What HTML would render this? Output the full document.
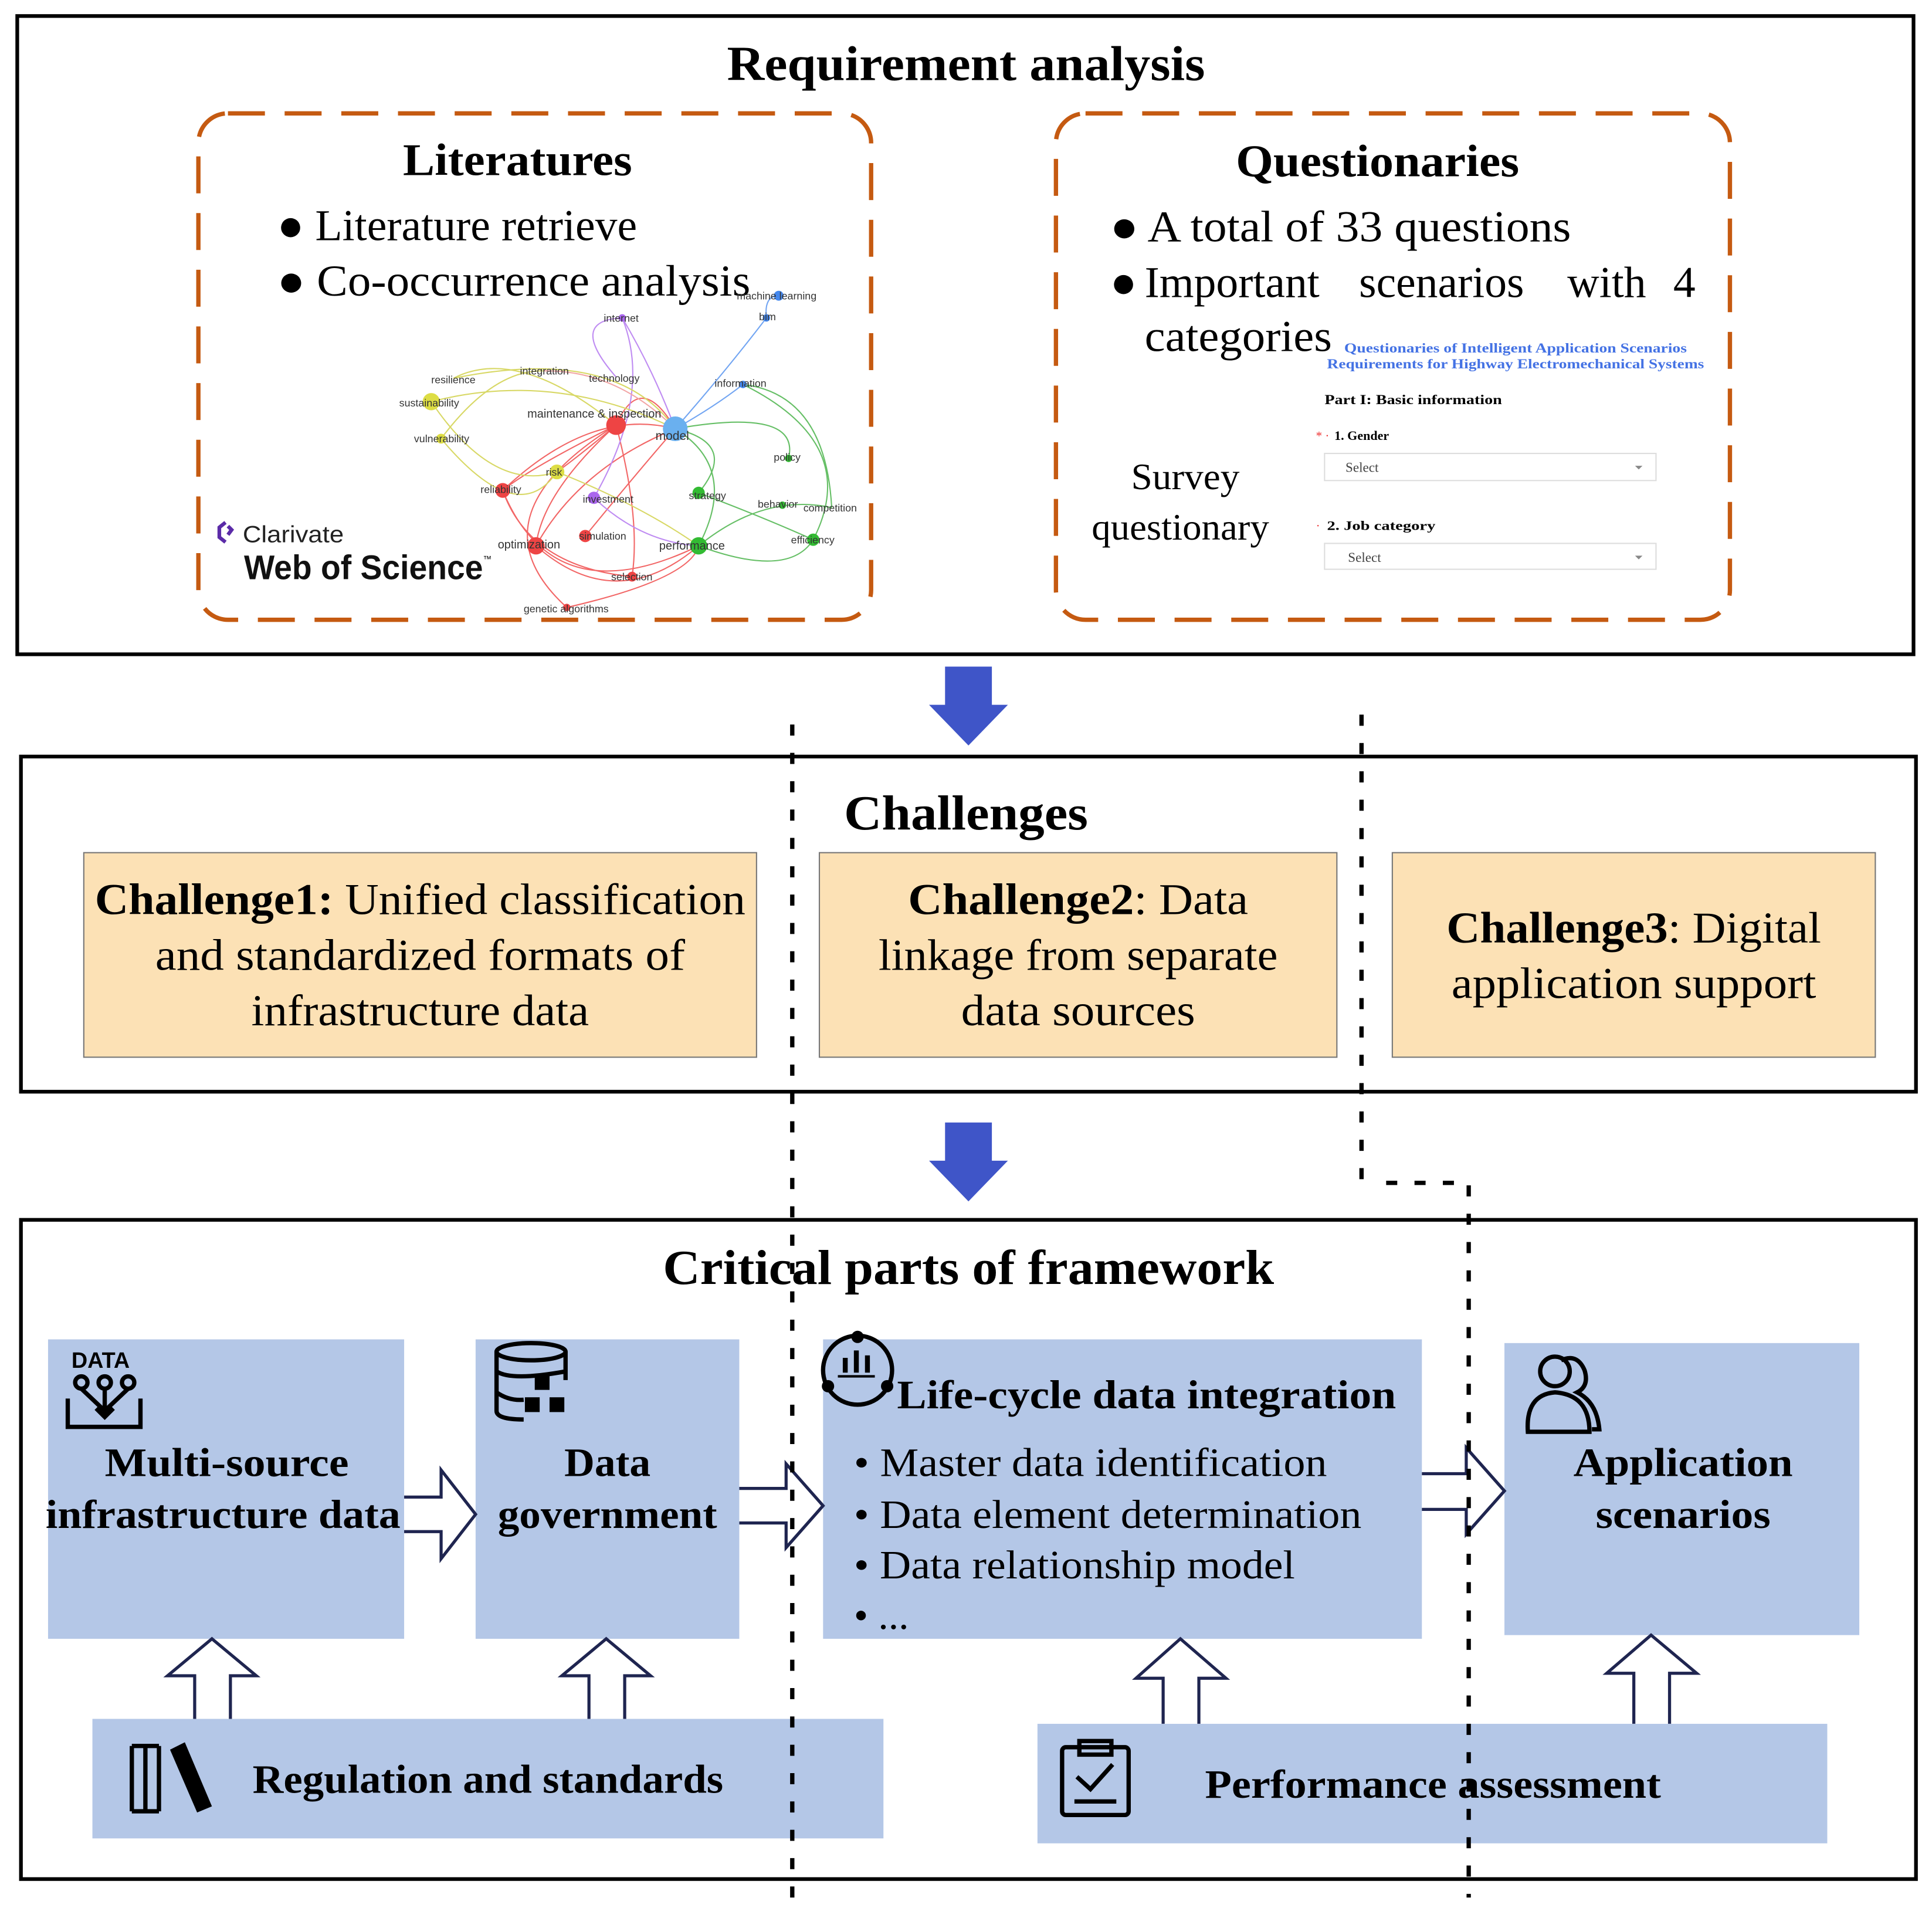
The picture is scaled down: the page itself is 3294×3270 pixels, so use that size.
<!DOCTYPE html>
<html><head><meta charset="utf-8"><style>
html,body{margin:0;padding:0;background:#fff}
svg{display:block}
text{font-family:"Liberation Serif",serif}
.b{font-weight:bold}
.s text,text.s{font-family:"Liberation Sans",sans-serif}
</style></head><body>
<svg width="3294" height="3270" viewBox="0 0 1568 1556.6" preserveAspectRatio="none" xmlns="http://www.w3.org/2000/svg">
<rect width="1568" height="1557" fill="#fff"/>
<rect x="14" y="13" width="1539" height="518" fill="none" stroke="#000" stroke-width="3"/>
<text x="784" y="65" text-anchor="middle" class="b" font-size="40" textLength="388" lengthAdjust="spacingAndGlyphs">Requirement analysis</text>
<rect x="161" y="92" width="546" height="411" rx="24" fill="none" stroke="#C55A11" stroke-width="3.5" stroke-dasharray="30 16"/>
<rect x="857" y="92" width="547" height="411" rx="24" fill="none" stroke="#C55A11" stroke-width="3.5" stroke-dasharray="30 16"/>
<text x="420" y="142" text-anchor="middle" class="b" font-size="37" textLength="186" lengthAdjust="spacingAndGlyphs">Literatures</text>
<text x="225" y="195" font-size="36" textLength="292" lengthAdjust="spacingAndGlyphs">● Literature retrieve</text>
<text x="225" y="240" font-size="36" textLength="384" lengthAdjust="spacingAndGlyphs">● Co-occurrence analysis</text>
<g fill="none" stroke-width="1" opacity="0.75">
<path d="M548 348 Q520 300 500 345" stroke="#e33"/>
<path d="M500 345 Q470 370 452 383" stroke="#e33"/>
<path d="M500 345 Q430 380 408 398" stroke="#e33"/>
<path d="M500 345 Q440 400 435 443" stroke="#e33"/>
<path d="M500 345 Q520 420 513 468" stroke="#e33"/>
<path d="M500 345 Q380 420 460 493" stroke="#e33"/>
<path d="M408 398 Q430 460 513 468" stroke="#e33"/>
<path d="M435 443 Q470 380 548 348" stroke="#e33"/>
<path d="M435 443 Q500 500 567 443" stroke="#e33"/>
<path d="M475 435 Q520 380 548 348" stroke="#e33"/>
<path d="M460 493 Q560 470 567 443" stroke="#e33"/>
<path d="M408 398 Q480 330 548 348" stroke="#e33"/>
<path d="M548 348 Q600 380 567 443" stroke="#3a3"/>
<path d="M548 348 Q600 360 567 400" stroke="#3a3"/>
<path d="M567 400 Q620 420 660 438" stroke="#3a3"/>
<path d="M567 443 Q620 400 675 412" stroke="#3a3"/>
<path d="M548 348 Q650 330 640 372" stroke="#3a3"/>
<path d="M603 312 Q700 360 660 438" stroke="#3a3"/>
<path d="M567 443 Q640 470 660 438" stroke="#3a3"/>
<path d="M603 312 Q670 320 675 412" stroke="#3a3"/>
<path d="M548 348 Q590 300 622 258" stroke="#48e"/>
<path d="M548 348 Q580 330 603 312" stroke="#48e"/>
<path d="M622 258 Q620 240 632 240" stroke="#48e"/>
<path d="M548 348 Q530 300 505 258" stroke="#a6e"/>
<path d="M482 404 Q530 320 505 258" stroke="#a6e"/>
<path d="M500 306 Q460 260 505 258" stroke="#a6e"/>
<path d="M368 307 Q420 280 500 345" stroke="#cc3"/>
<path d="M350 326 Q400 400 452 383" stroke="#cc3"/>
<path d="M358 356 Q420 430 452 383" stroke="#cc3"/>
<path d="M368 307 Q500 280 548 348" stroke="#cc3"/>
<path d="M350 326 Q450 300 548 348" stroke="#cc3"/>
<path d="M441 301 Q500 300 548 348" stroke="#e88"/>
<path d="M452 383 Q520 410 567 443" stroke="#cc3"/>
<path d="M482 404 Q520 440 567 443" stroke="#a6e"/>
<path d="M358 356 Q400 300 441 301" stroke="#cc3"/>
<path d="M408 398 Q450 500 567 443" stroke="#e33"/>
</g>
<g>
<circle cx="548" cy="348" r="10" fill="#6ab0ef"/>
<circle cx="500" cy="345" r="8" fill="#e44"/>
<circle cx="452" cy="383" r="6" fill="#dd4"/>
<circle cx="408" cy="398" r="6" fill="#e44"/>
<circle cx="435" cy="443" r="7" fill="#e44"/>
<circle cx="475" cy="435" r="5" fill="#e44"/>
<circle cx="567" cy="443" r="7" fill="#3b3"/>
<circle cx="567" cy="400" r="5" fill="#3b3"/>
<circle cx="482" cy="404" r="5" fill="#a6e"/>
<circle cx="513" cy="468" r="4" fill="#e44"/>
<circle cx="460" cy="493" r="3" fill="#e44"/>
<circle cx="635" cy="410" r="3" fill="#3b3"/>
<circle cx="660" cy="438" r="5" fill="#3b3"/>
<circle cx="640" cy="372" r="3" fill="#3b3"/>
<circle cx="603" cy="312" r="3" fill="#48e"/>
<circle cx="622" cy="258" r="3" fill="#48e"/>
<circle cx="632" cy="240" r="4" fill="#48e"/>
<circle cx="505" cy="258" r="3" fill="#a6e"/>
<circle cx="350" cy="326" r="7" fill="#dd4"/>
<circle cx="358" cy="356" r="4" fill="#dd4"/>
</g>
<g class="s" font-size="8.5" fill="#333">
<text x="532" y="357" font-size="10">model</text>
<text x="428" y="339" font-size="9.5">maintenance &amp; inspection</text>
<text x="443" y="386">risk</text>
<text x="390" y="400">reliability</text>
<text x="404" y="445" font-size="9.5">optimization</text>
<text x="470" y="438">simulation</text>
<text x="535" y="446" font-size="9.5">performance</text>
<text x="559" y="405">strategy</text>
<text x="473" y="408">investment</text>
<text x="496" y="471">selection</text>
<text x="425" y="497">genetic algorithms</text>
<text x="615" y="412">behavior</text>
<text x="652" y="415">competition</text>
<text x="642" y="441">efficiency</text>
<text x="628" y="374">policy</text>
<text x="580" y="314">information</text>
<text x="616" y="260">bim</text>
<text x="598" y="243">machine learning</text>
<text x="490" y="261">internet</text>
<text x="478" y="310">technology</text>
<text x="422" y="304">integration</text>
<text x="350" y="311">resilience</text>
<text x="324" y="330">sustainability</text>
<text x="336" y="359">vulnerability</text>
</g>
<path d="M183 424 L178 428 L178 436 L183 440 M185 427 L188 430 L185 434" fill="none" stroke="#5b2ba8" stroke-width="3"/>
<text x="197" y="440" class="s" font-size="19" fill="#222" textLength="82" lengthAdjust="spacingAndGlyphs">Clarivate</text>
<text x="198" y="470" class="s" font-weight="bold" font-size="28" fill="#111" textLength="194" lengthAdjust="spacingAndGlyphs">Web of Science</text>
<text x="392" y="456" class="s" font-size="7">™</text>
<text x="1118" y="143" text-anchor="middle" class="b" font-size="37" textLength="230" lengthAdjust="spacingAndGlyphs">Questionaries</text>
<text x="901" y="196" font-size="36" textLength="374" lengthAdjust="spacingAndGlyphs">● A total of 33 questions</text>
<text x="901" y="241" font-size="36">●</text>
<text x="929" y="241" font-size="36">Important</text>
<text x="1103" y="241" font-size="36">scenarios</text>
<text x="1272" y="241" font-size="36">with</text>
<text x="1358" y="241" font-size="36">4</text>
<text x="929" y="285" font-size="36" textLength="152" lengthAdjust="spacingAndGlyphs">categories</text>
<text x="1230" y="286" text-anchor="middle" class="b" font-size="11" fill="#4472E4" textLength="278" lengthAdjust="spacingAndGlyphs">Questionaries of Intelligent Application Scenarios</text>
<text x="1230" y="299" text-anchor="middle" class="b" font-size="11" fill="#4472E4" textLength="306" lengthAdjust="spacingAndGlyphs">Requirements for Highway Electromechanical Systems</text>
<text x="1075" y="328" class="b" font-size="11" textLength="144" lengthAdjust="spacingAndGlyphs">Part I: Basic information</text>
<text x="1068" y="357" font-size="10" fill="#e33">* ·</text>
<text x="1083" y="357" class="b" font-size="10.5">1. Gender</text>
<rect x="1075" y="368" width="269" height="22" fill="#fff" stroke="#ddd" stroke-width="1"/>
<text x="1092" y="383" font-size="11" fill="#444">Select</text>
<path d="M1327 378 l3 3 l3 -3z" fill="#888"/>
<text x="1068" y="430" font-size="10" fill="#e33">·</text>
<text x="1077" y="430" class="b" font-size="10.5" textLength="88" lengthAdjust="spacingAndGlyphs">2. Job category</text>
<rect x="1075" y="441" width="269" height="21" fill="#fff" stroke="#ddd" stroke-width="1"/>
<text x="1094" y="456" font-size="11" fill="#444">Select</text>
<path d="M1327 451 l3 3 l3 -3z" fill="#888"/>
<text x="962" y="397" text-anchor="middle" font-size="30" textLength="88" lengthAdjust="spacingAndGlyphs">Survey</text>
<text x="958" y="438" text-anchor="middle" font-size="30" textLength="144" lengthAdjust="spacingAndGlyphs">questionary</text>
<path d="M767 541 H805 V572 H818 L786 605 L754 572 H767 Z" fill="#3F55C8"/>
<path d="M767 911 H805 V942 H818 L786 975 L754 942 H767 Z" fill="#3F55C8"/>
<rect x="17" y="614" width="1538" height="272" fill="none" stroke="#000" stroke-width="3"/>
<text x="784" y="673" text-anchor="middle" class="b" font-size="40" textLength="198" lengthAdjust="spacingAndGlyphs">Challenges</text>
<rect x="68" y="692" width="546" height="166" fill="#FCE1B5" stroke="#777" stroke-width="1"/>
<rect x="665" y="692" width="420" height="166" fill="#FCE1B5" stroke="#777" stroke-width="1"/>
<rect x="1130" y="692" width="392" height="166" fill="#FCE1B5" stroke="#777" stroke-width="1"/>
<text x="341" y="742" text-anchor="middle" font-size="36" textLength="528" lengthAdjust="spacingAndGlyphs"><tspan class="b">Challenge1:</tspan> Unified classification</text>
<text x="341" y="787" text-anchor="middle" font-size="36" textLength="430" lengthAdjust="spacingAndGlyphs">and standardized formats of</text>
<text x="341" y="832" text-anchor="middle" font-size="36" textLength="274" lengthAdjust="spacingAndGlyphs">infrastructure data</text>
<text x="875" y="742" text-anchor="middle" font-size="36" textLength="276" lengthAdjust="spacingAndGlyphs"><tspan class="b">Challenge2</tspan>: Data</text>
<text x="875" y="787" text-anchor="middle" font-size="36" textLength="324" lengthAdjust="spacingAndGlyphs">linkage from separate</text>
<text x="875" y="832" text-anchor="middle" font-size="36" textLength="190" lengthAdjust="spacingAndGlyphs">data sources</text>
<text x="1326" y="765" text-anchor="middle" font-size="36" textLength="304" lengthAdjust="spacingAndGlyphs"><tspan class="b">Challenge3</tspan>: Digital</text>
<text x="1326" y="810" text-anchor="middle" font-size="36" textLength="296" lengthAdjust="spacingAndGlyphs">application support</text>
<rect x="17" y="990" width="1538" height="535" fill="none" stroke="#000" stroke-width="3"/>
<text x="786" y="1042" text-anchor="middle" class="b" font-size="40" textLength="496" lengthAdjust="spacingAndGlyphs">Critical parts of framework</text>
<rect x="39" y="1087" width="289" height="243" fill="#B4C7E7"/>
<rect x="386" y="1087" width="214" height="243" fill="#B4C7E7"/>
<rect x="668" y="1087" width="486" height="243" fill="#B4C7E7"/>
<rect x="1221" y="1090" width="288" height="237" fill="#B4C7E7"/>
<rect x="75" y="1395" width="642" height="97" fill="#B4C7E7"/>
<rect x="842" y="1399" width="641" height="97" fill="#B4C7E7"/>
<g class="b" font-size="33">
<text x="184" y="1198" text-anchor="middle" textLength="198" lengthAdjust="spacingAndGlyphs">Multi-source</text>
<text x="181" y="1240" text-anchor="middle" textLength="288" lengthAdjust="spacingAndGlyphs">infrastructure data</text>
<text x="493" y="1198" text-anchor="middle" textLength="70" lengthAdjust="spacingAndGlyphs">Data</text>
<text x="493" y="1240" text-anchor="middle" textLength="178" lengthAdjust="spacingAndGlyphs">government</text>
<text x="728" y="1143" textLength="405" lengthAdjust="spacingAndGlyphs">Life-cycle data integration</text>
<text x="1366" y="1198" text-anchor="middle" textLength="178" lengthAdjust="spacingAndGlyphs">Application</text>
<text x="1366" y="1240" text-anchor="middle" textLength="142" lengthAdjust="spacingAndGlyphs">scenarios</text>
<text x="205" y="1455" textLength="382" lengthAdjust="spacingAndGlyphs">Regulation and standards</text>
<text x="978" y="1459" textLength="370" lengthAdjust="spacingAndGlyphs">Performance assessment</text>
</g>
<g font-size="33">
<text x="693" y="1198" textLength="384" lengthAdjust="spacingAndGlyphs">• Master data identification</text>
<text x="693" y="1240" textLength="412" lengthAdjust="spacingAndGlyphs">• Data element determination</text>
<text x="693" y="1281" textLength="358" lengthAdjust="spacingAndGlyphs">• Data relationship model</text>
<text x="693" y="1322">• ...</text>
</g>
<g fill="#fff" stroke="#1F2550" stroke-width="2.5" stroke-linejoin="miter">
<path d="M328 1215 H358 V1193 L386 1229 L358 1265 V1243 H328" />
<path d="M600 1208 H638 V1188 L668 1222 L638 1256 V1236 H600" />
<path d="M1154 1196 H1190 V1175 L1221 1210 L1190 1245 V1225 H1154" />
<path d="M158 1395 V1360 H136 L172 1330 L208 1360 H187 V1395" />
<path d="M478 1395 V1360 H456 L492 1330 L528 1360 H507 V1395" />
<path d="M944 1399 V1362 H922 L958 1330 L995 1362 H973 V1399" />
<path d="M1326 1399 V1358 H1304 L1340 1327 L1377 1358 H1355 V1399" />
</g>
<g fill="none" stroke="#000" stroke-width="3.5" stroke-dasharray="9 14">
<path d="M643 588 V1550"/>
<path d="M1105 580 V960"/>
<path d="M1125 960 H1192 V1540"/>
</g>
<text x="58" y="1110" class="s" font-weight="bold" font-size="18">DATA</text>
<g fill="none" stroke="#000" stroke-width="3.5">
<path d="M55 1135 V1158 H114 V1135"/>
<circle cx="66" cy="1122" r="5"/><circle cx="85" cy="1122" r="5"/><circle cx="104" cy="1122" r="5"/>
<path d="M66 1127 L85 1145 L104 1127 M85 1127 V1150 M78 1143 L85 1150 L92 1143"/>
<ellipse cx="431" cy="1097" rx="28" ry="7"/>
<path d="M403 1097 V1145 Q403 1152 425 1152 M459 1097 V1120 M403 1113 Q415 1121 459 1113 M403 1130 Q413 1137 425 1136"/>
<circle cx="696" cy="1112" r="28"/>
<path d="M1240 1162 Q1238 1132 1262 1130 Q1290 1132 1290 1162 Z"/>
<circle cx="1262" cy="1113" r="12"/>
<path d="M1267 1104 Q1280 1098 1286 1112 Q1290 1125 1280 1130 Q1296 1138 1298 1160 H1292"/>
<rect x="862" y="1418" width="54" height="55" rx="3"/>
<path d="M876 1413 H902 V1424 H876 Z M874 1442 L885 1452 L903 1432 M872 1462 H906"/>
<path d="M107 1417 V1470 M118 1417 V1470 M129 1417 V1470 M107 1417 H129 M107 1470 H129"/>
</g>
<path d="M138 1420 L150 1414 L172 1466 L160 1471 Z" fill="#000"/>
<rect x="434" y="1116" width="12" height="12" fill="#000"/><rect x="426" y="1134" width="12" height="12" fill="#000"/><rect x="446" y="1134" width="12" height="12" fill="#000"/>
<circle cx="696" cy="1085" r="5" fill="#000"/><circle cx="672" cy="1125" r="5" fill="#000"/><circle cx="720" cy="1125" r="5" fill="#000"/>
<rect x="684" y="1102" width="4" height="12" fill="#000"/><rect x="693" y="1096" width="4" height="18" fill="#000"/><rect x="702" y="1100" width="4" height="14" fill="#000"/><rect x="680" y="1116" width="30" height="2" fill="#000"/>
</svg>
</body></html>
